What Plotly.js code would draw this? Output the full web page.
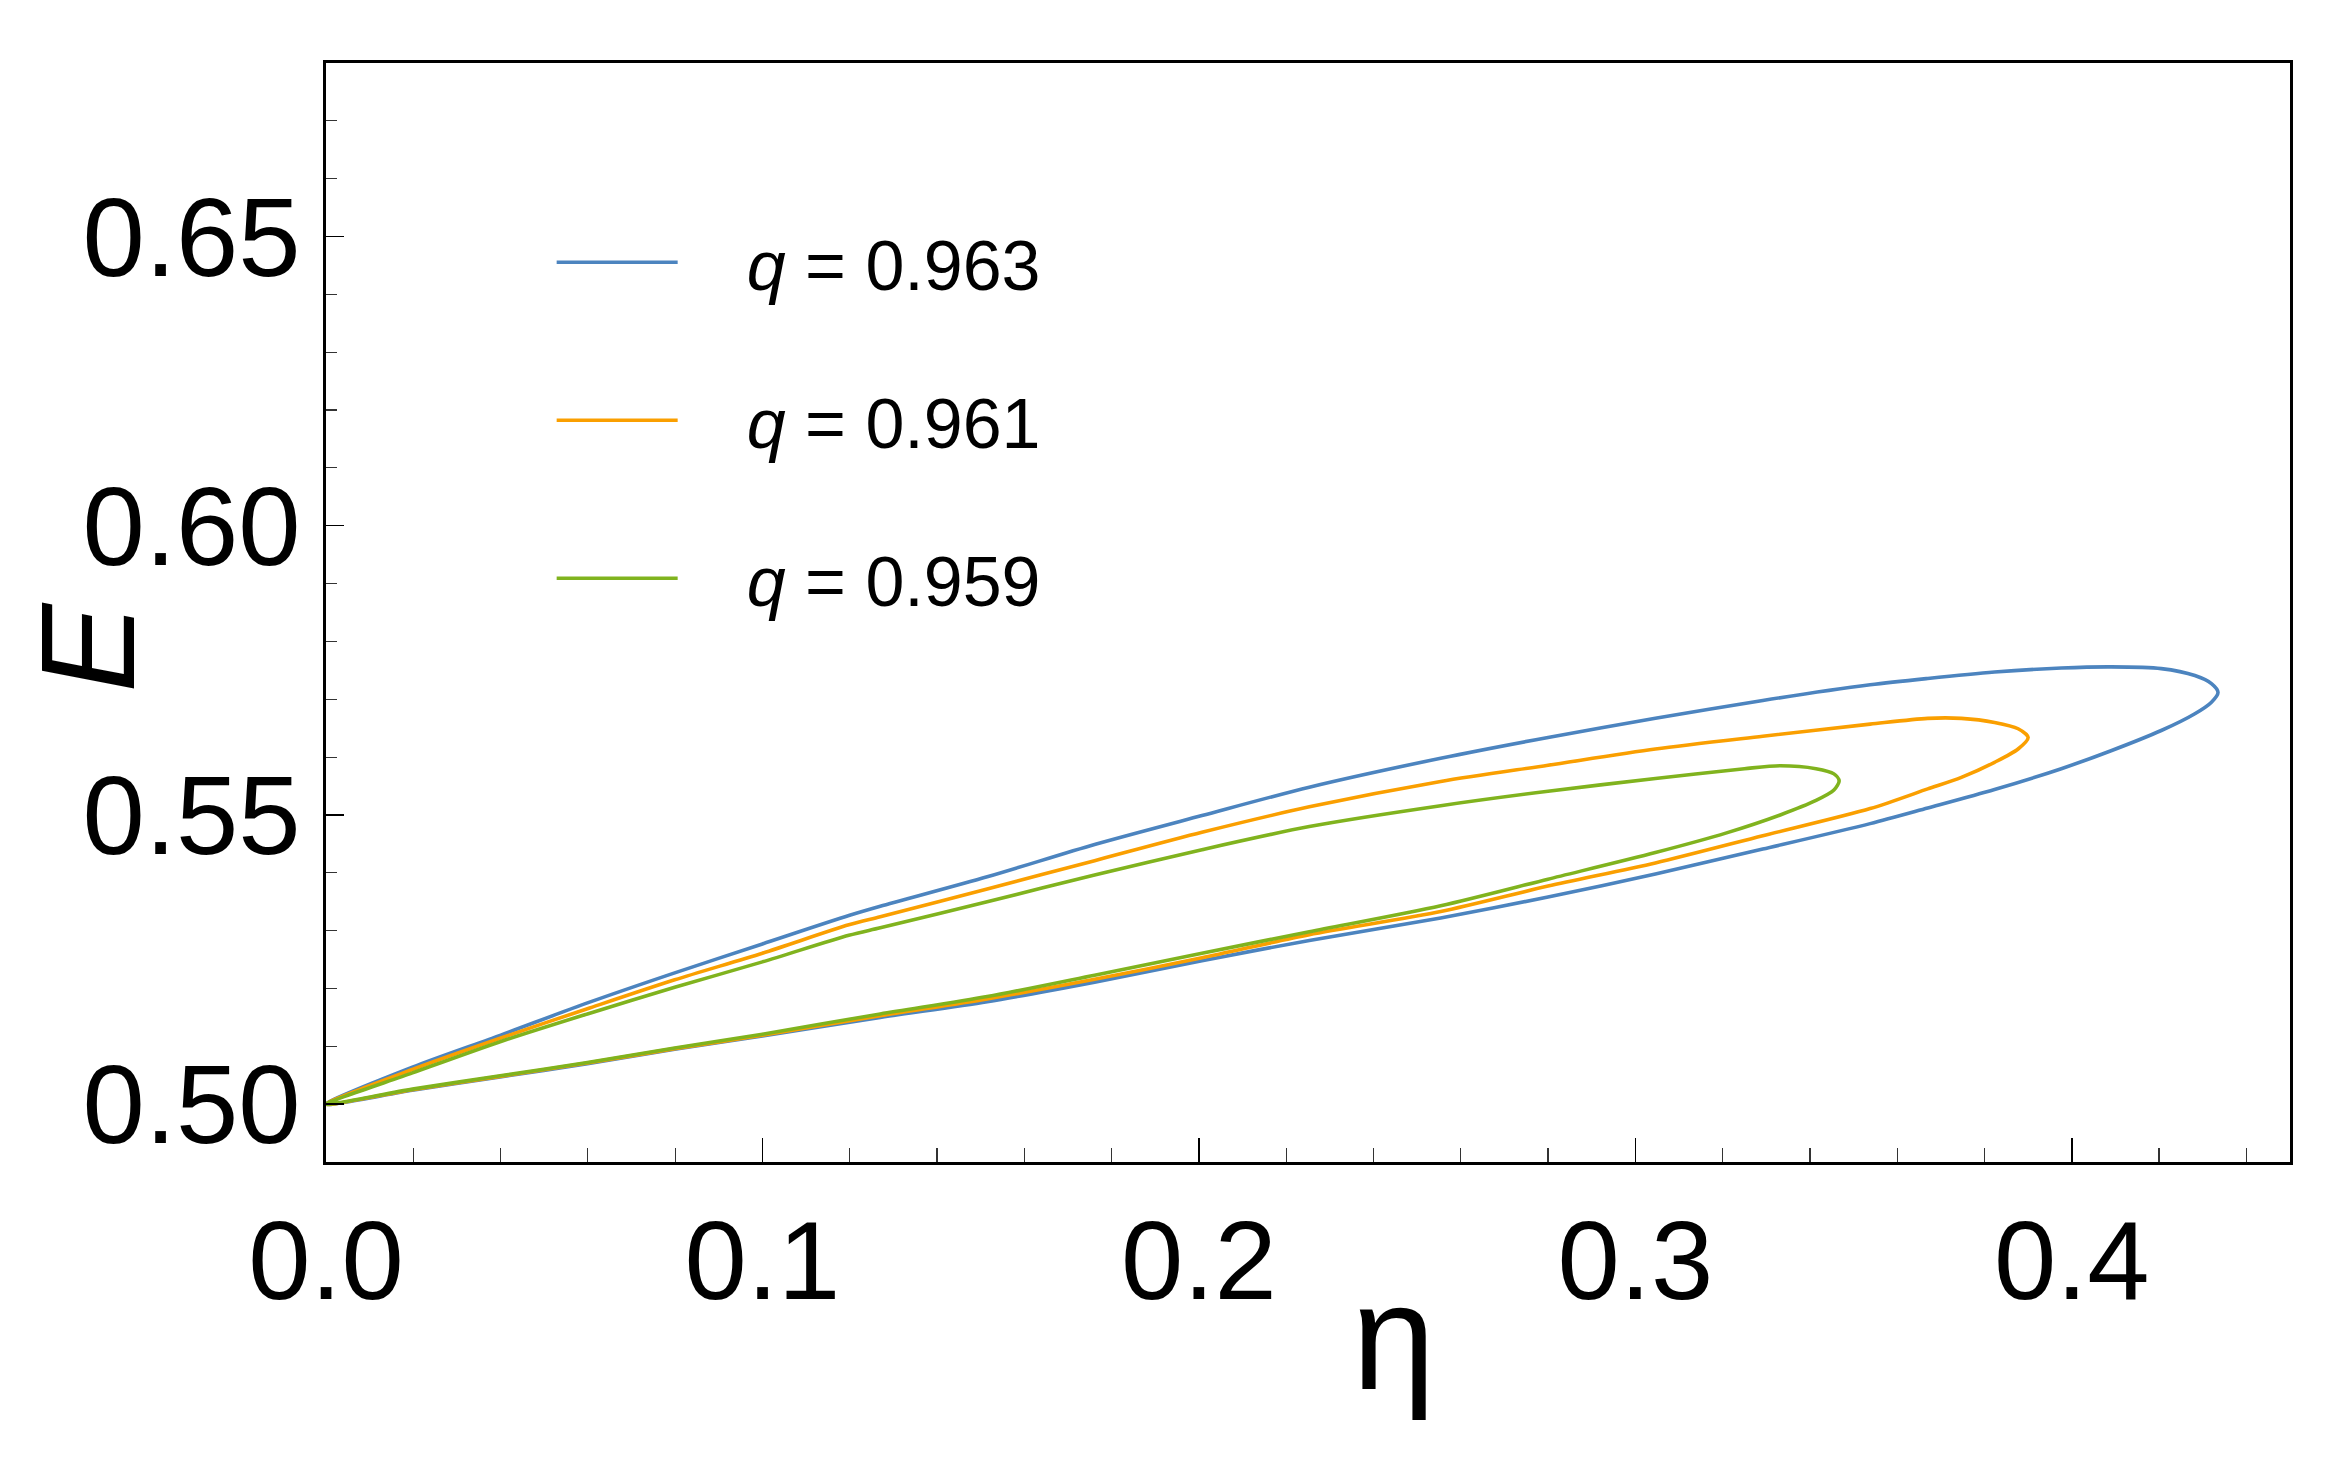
<!DOCTYPE html>
<html>
<head>
<meta charset="utf-8">
<script src="https://cdn.plot.ly/plotly-3.0.1.min.js"></script>
<style>
  html, body { margin: 0; padding: 0; background: #fff; }
  #plot { width: 2339px; height: 1471px; }
</style>
</head>
<body>
<div id="plot"></div>
<script>
const FONT = "Liberation Sans Narrow, Liberation Sans, Arial, sans-serif"

const q_labels = ["0.963", "0.961", "0.959"]
const line_colors = ["#4C84BF", "#FA9F00", "#80B31E"]

// each loop: upper branch out to the tip, then lower branch back to (0, 0.5)
const eta_963 = [0, 0.0198, 0.0399, 0.0599, 0.0799, 0.1000, 0.1198, 0.1270, 0.1515, 0.1761, 0.2007, 0.2253, 0.2554,
    0.2800, 0.3046, 0.3292, 0.3538, 0.3670, 0.3823, 0.3976, 0.4090, 0.4205, 0.4282, 0.4320, 0.4335,
    0.4320, 0.4282, 0.4205, 0.4090, 0.3976, 0.3823, 0.3670, 0.3538, 0.3292, 0.3046, 0.2800, 0.2554,
    0.2253, 0.2007, 0.1761, 0.1515, 0.1270, 0.1000, 0.0799, 0.0599, 0.0399, 0.0198, 0]
const E_963 = [0.5000, 0.5064, 0.5119, 0.5175, 0.5227, 0.5277, 0.5326, 0.5342, 0.5393, 0.5449, 0.5499, 0.5548, 0.5598,
    0.5634, 0.5667, 0.5698, 0.5725, 0.5736, 0.5747, 0.5754, 0.5756, 0.5753, 0.5741, 0.5727, 0.5712,
    0.5695, 0.5675, 0.5646, 0.5611, 0.5580, 0.5544, 0.5512, 0.5485, 0.5441, 0.5398, 0.5358, 0.5322,
    0.5283, 0.5248, 0.5211, 0.5177, 0.5150, 0.5118, 0.5095, 0.5070, 0.5047, 0.5024, 0.5000]

const eta_961 = [0, 0.0198, 0.0399, 0.0599, 0.0799, 0.1000, 0.1198, 0.1270, 0.1515, 0.1761, 0.2007, 0.2253, 0.2554,
    0.2800, 0.3046, 0.3292, 0.3538, 0.3670, 0.3747, 0.3823, 0.3877, 0.3900,
    0.3877, 0.3823, 0.3747, 0.3670, 0.3538, 0.3292, 0.3046, 0.2800, 0.2554,
    0.2253, 0.2007, 0.1761, 0.1515, 0.1270, 0.1000, 0.0799, 0.0599, 0.0399, 0.0198, 0]
const E_961 = [0.5000, 0.5060, 0.5114, 0.5165, 0.5215, 0.5261, 0.5310, 0.5324, 0.5372, 0.5421, 0.5470, 0.5514, 0.5558,
    0.5586, 0.5614, 0.5636, 0.5657, 0.5667, 0.5667, 0.5660, 0.5649, 0.5634,
    0.5614, 0.5591, 0.5565, 0.5545, 0.5511, 0.5464, 0.5417, 0.5377, 0.5333,
    0.5293, 0.5253, 0.5216, 0.5182, 0.5153, 0.5119, 0.5096, 0.5071, 0.5048, 0.5025, 0.5000]

const eta_959 = [0, 0.0198, 0.0399, 0.0599, 0.0799, 0.1000, 0.1198, 0.1270, 0.1515, 0.1761, 0.2007, 0.2253, 0.2554,
    0.2800, 0.3046, 0.3250, 0.3332, 0.3414, 0.3455, 0.3467,
    0.3455, 0.3414, 0.3332, 0.3209, 0.3046, 0.2800, 0.2554,
    0.2253, 0.2007, 0.1761, 0.1515, 0.1270, 0.1000, 0.0799, 0.0599, 0.0399, 0.0198, 0]
const E_959 = [0.5000, 0.5054, 0.5108, 0.5156, 0.5202, 0.5246, 0.5292, 0.5305, 0.5350, 0.5396, 0.5440, 0.5480, 0.5516,
    0.5541, 0.5563, 0.5580, 0.5585, 0.5580, 0.5571, 0.5559,
    0.5543, 0.5525, 0.5500, 0.5469, 0.5435, 0.5389, 0.5343,
    0.5298, 0.5261, 0.5223, 0.5186, 0.5156, 0.5121, 0.5097, 0.5072, 0.5049, 0.5026, 0.5000]

const loops = [[eta_963, E_963], [eta_961, E_961], [eta_959, E_959]]

let data = []
for (let i = 0; i < loops.length; i++) {
    data.push({
        x: loops[i][0],
        y: loops[i][1],
        mode: 'lines',
        name: '<i>q</i> = ' + q_labels[i],
        legendgroup: 'g' + i,
        line: { color: line_colors[i], width: 3.6, shape: 'spline', smoothing: 0.8 },
        hoverinfo: 'skip'
    })
}

const axis_common = {
    showgrid: false,
    zeroline: false,
    showline: true,
    linecolor: '#000',
    linewidth: 3,
    mirror: true,
    ticks: 'inside',
    tickcolor: '#000',
    tickwidth: 1.5,
    tickfont: { family: FONT, size: 112, color: '#000' },
    automargin: false
}

let layout = {
    width: 2339,
    height: 1471,
    paper_bgcolor: '#fff',
    plot_bgcolor: '#fff',
    margin: { l: 326, r: 49, t: 63, b: 309 },
    showlegend: true,
    legend: {
        x: 0.1149, y: 0.866, xanchor: 'left', yanchor: 'top',
        bgcolor: 'rgba(0,0,0,0)',
        font: { family: FONT, size: 70, color: '#000' },
        itemwidth: 185,
        traceorder: 'grouped',
        tracegroupgap: 64
    },
    xaxis: Object.assign({}, axis_common, {
        range: [0, 0.45],
        dtick: 0.1, tick0: 0,
        tickformat: '.1f',
        ticklen: 24,
        ticklabelstandoff: 0,
        minor: { dtick: 0.02, ticks: 'inside', ticklen: 14, tickwidth: 1.2, tickcolor: '#333' }
    }),
    yaxis: Object.assign({}, axis_common, {
        range: [0.49, 0.68],
        dtick: 0.05, tick0: 0.5,
        tickformat: '.2f',
        ticklen: 18,
        ticklabelstandoff: 0,
        minor: { dtick: 0.01, ticks: 'inside', ticklen: 11, tickwidth: 1.2, tickcolor: '#333' }
    }),
    annotations: [
        {   // E, rotated, a little below the middle of the frame as in the original
            text: '<i>E</i>', xref: 'paper', yref: 'paper',
            x: -0.1214, y: 0.4677, xanchor: 'center', yanchor: 'middle',
            textangle: -90, showarrow: false,
            font: { family: FONT, size: 133, color: '#000' }
        },
        {   // eta, sits right of centre
            text: 'η', xref: 'paper', yref: 'paper',
            x: 0.5437, y: -0.159, xanchor: 'center', yanchor: 'middle',
            showarrow: false,
            font: { family: FONT, size: 150, color: '#000' }
        }
    ]
}

Plotly.newPlot('plot', data, layout, { displayModeBar: false, staticPlot: true }).then(function (gd) {
    // legend swatches are much longer in the original than plotly's fixed 30px
    gd.querySelectorAll('.legendlines path').forEach(function (p) {
        p.setAttribute('d', 'M5,0h121')
    })
})
</script>
</body>
</html>
